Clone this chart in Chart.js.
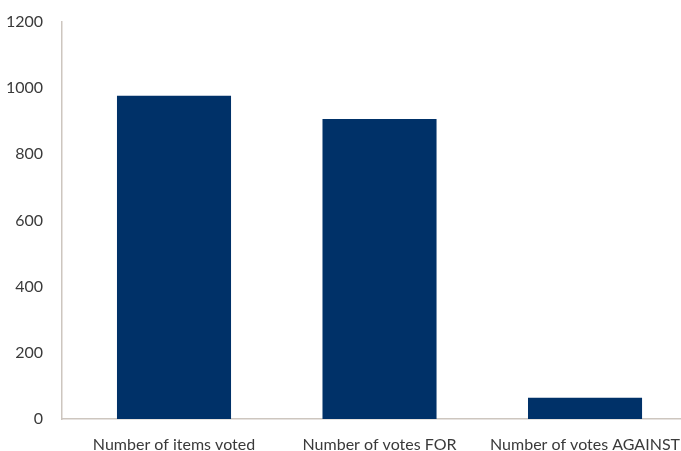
<!DOCTYPE html>
<html><head><meta charset="utf-8">
<script src="https://cdn.jsdelivr.net/npm/chart.js@4/dist/chart.umd.min.js"></script>
<style>html,body{margin:0;padding:0;background:#fff;overflow:hidden}#wrap{width:681px;height:451px}</style>
</head><body><div id="wrap"><canvas id="c" width="681" height="451"></canvas></div>
<script>
const categories = ["Number of items voted", "Number of votes FOR", "Number of votes AGAINST"];
const values = [977, 907, 64];
const yTicks = [0, 200, 400, 600, 800, 1000, 1200];

const points = categories.map((c, i) => ({x: i, y: values[i]}));
const font = {family: "Lato, sans-serif", size: 16};
new Chart(document.getElementById('c'), {
  type: 'bar',
  data: {datasets: [{data: points, backgroundColor: '#003168', borderWidth: 0,
    barPercentage: 0.555, categoryPercentage: 1}]},
  options: {
    responsive: false, animation: false,
    layout: {padding: {top: 22, left: 0, right: 0, bottom: 0}},
    plugins: {legend: {display: false}, tooltip: {enabled: false}},
    scales: {
      x: {type: 'linear', min: -0.545, max: 2.467, offset: false, bounds: 'ticks',
        afterBuildTicks: s => { s.ticks = categories.map((c, i) => ({value: i})); },
        afterFit: s => { s.height = 32; s.paddingLeft = 0; s.paddingRight = 0; },
        ticks: {callback: v => categories[v], color: '#3a3a3a', font: font, padding: 16, maxRotation: 0, autoSkip: false},
        grid: {display: false, drawTicks: false},
        border: {display: true, color: '#cdc6bf', width: 1.5}},
      y: {min: 0, max: 1200,
        afterBuildTicks: s => { s.ticks = yTicks.map(v => ({value: v})); },
        afterFit: s => { s.width = 62; s.paddingTop = 0; s.paddingBottom = 0; },
        ticks: {color: '#3a3a3a', font: font, padding: 19, callback: v => String(v)},
        grid: {display: false, drawTicks: false},
        border: {display: true, color: '#cdc6bf', width: 1.5}}
    }
  }
});
</script></body></html>
